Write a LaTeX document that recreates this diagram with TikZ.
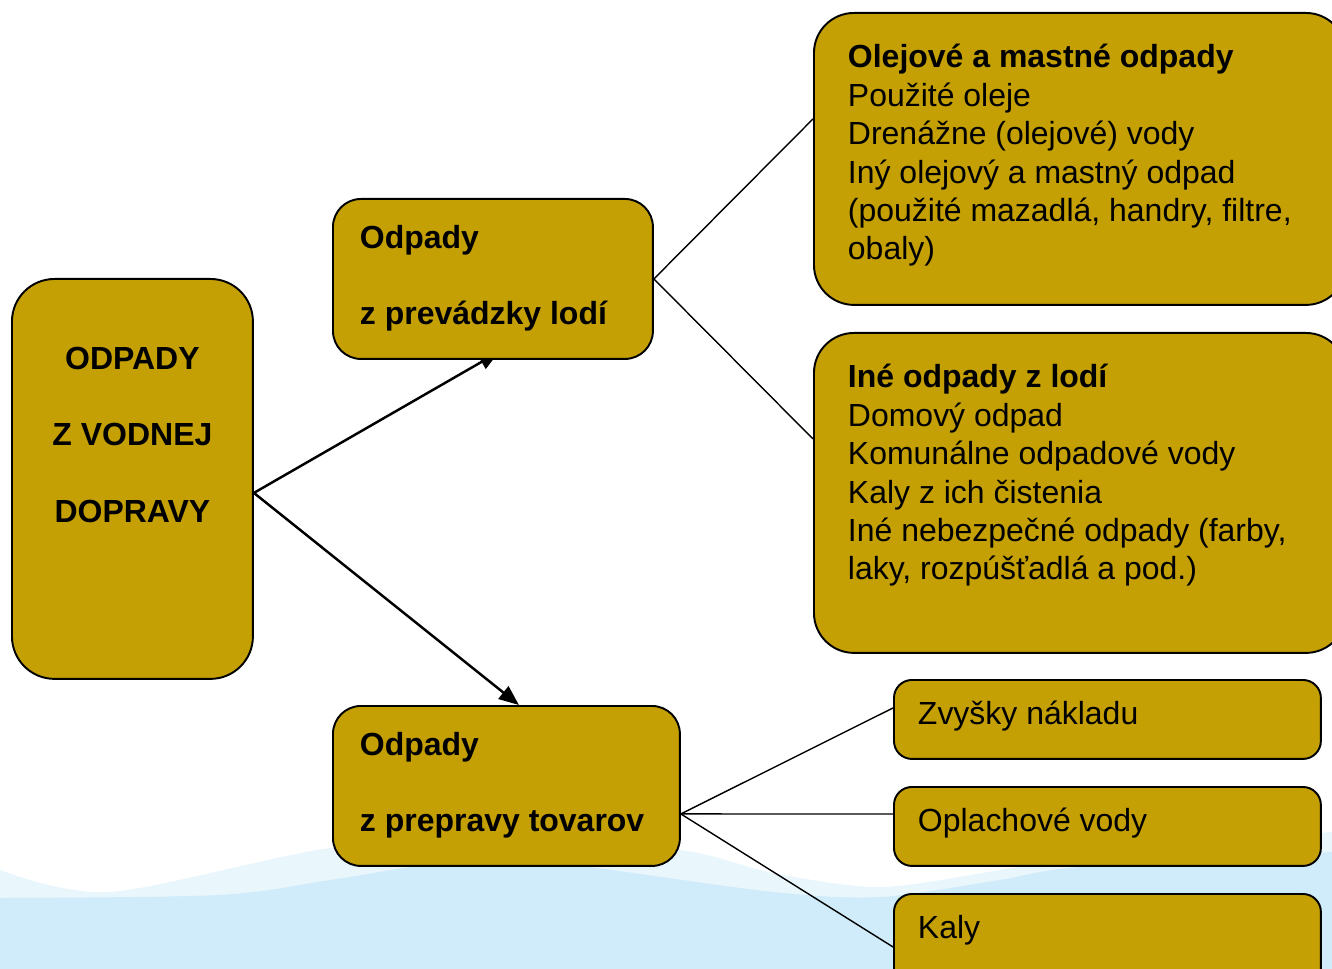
\documentclass[tikz,border=0pt]{standalone}
\usepackage{fontspec}
\setmainfont{Liberation Sans}
\usetikzlibrary{arrows.meta,backgrounds}

\definecolor{boxgold}{RGB}{196,160,4}
\definecolor{wavelight}{RGB}{233,246,252}
\definecolor{wavedark}{RGB}{208,235,249}

% top aligned text inside a box of fixed height
\newcommand{\boxtext}[3]{\parbox[c][#1][t]{#2}{\raggedright #3}}

\begin{document}
\begin{tikzpicture}[x=0.02cm, y=-0.02cm,
  box/.style={draw, line width=1.1pt, fill=boxgold, anchor=north west,
    font=\fontsize{18.2}{21.85}\selectfont},
  link/.style={line width=0.8pt},
  arrowlink/.style={line width=1.4pt, -{Triangle[length=0.4cm,width=0.32cm]}}]
 \useasboundingbox (0,0) rectangle (1332,969);

 % Waves at the bottom
 \begin{scope}[on background layer]
  \fill[wavelight] plot[smooth] coordinates {(0,870) (110,892) (330,848) (500,840) (680,850) (773,873) (880,887) (1000,870) (1100,852) (1332,832)} -- (1332,969) -- (0,969) -- cycle;
  \fill[wavedark] plot[smooth] coordinates {(0,898) (220,895) (330,880) (440,863) (520,860) (590,867) (773,892) (880,897) (1000,880) (1080,867) (1332,852)} -- (1332,969) -- (0,969) -- cycle;
 \end{scope}

 % Main box
 \node[box, rounded corners=0.85cm, inner xsep=0.2cm, inner ysep=1.36cm] (root) at (11,278)
  {\boxtext{5.28cm}{4.42cm}{\centering\fontsize{18.2}{43.5}\selectfont\bfseries ODPADY\\Z VODNEJ\\DOPRAVY}};

 % Second level
 \node[box, rounded corners=0.56cm, inner xsep=0.54cm, inner ysep=0.52cm] (ship) at (332,198)
  {\boxtext{2.16cm}{5.32cm}{\fontsize{18.2}{43.5}\selectfont\bfseries Odpady\\z prevádzky lodí}};
 \node[box, rounded corners=0.56cm, inner xsep=0.54cm, inner ysep=0.52cm] (cargo) at (332,705)
  {\boxtext{2.16cm}{5.86cm}{\fontsize{18.2}{43.5}\selectfont\bfseries Odpady\\z prepravy tovarov}};

 % Waste from ship operation
 \node[box, rounded corners=0.8cm, inner xsep=0.68cm, inner ysep=0.63cm] (oil) at (813,12)
  {\boxtext{4.58cm}{9.28cm}{{\bfseries Olejové a mastné odpady}\\Použité oleje\\Drenážne (olejové) vody\\Iný olejový a mastný odpad\\(použité mazadlá, handry, filtre,\\obaly)}};
 \node[box, rounded corners=0.8cm, inner xsep=0.68cm, inner ysep=0.63cm] (other) at (813,332)
  {\boxtext{5.14cm}{9.28cm}{{\bfseries Iné odpady z lodí}\\Domový odpad\\Komunálne odpadové vody\\Kaly z ich čistenia\\Iné nebezpečné odpady (farby,\\laky, rozpúšťadlá a pod.)}};

 % Waste from cargo transport
 \node[box, rounded corners=0.36cm, inner xsep=0.48cm, inner ysep=0.42cm] (residue) at (893,679)
  {\boxtext{0.74cm}{7.58cm}{Zvyšky nákladu}};
 \node[box, rounded corners=0.36cm, inner xsep=0.48cm, inner ysep=0.42cm] (rinse) at (893,786)
  {\boxtext{0.74cm}{7.58cm}{Oplachové vody}};
 \node[box, rounded corners=0.36cm, inner xsep=0.48cm, inner ysep=0.42cm] (sludge) at (893,893)
  {\boxtext{1.76cm}{7.58cm}{Kaly}};

 % Connectors
 \begin{scope}[on background layer]
  \draw[arrowlink] ([yshift=-0.28cm]root.east) -- ([xshift=0.12cm,yshift=0.16cm]ship.south);
  \draw[arrowlink] ([yshift=-0.28cm]root.east) -- ([xshift=0.25cm]cargo.north);
  \draw[link] (ship.east) -- ([yshift=0.8cm]oil.west);
  \draw[link] (ship.east) -- ([yshift=1.08cm]other.west);
  \draw[link] ([yshift=-0.56cm]cargo.east) -- ([yshift=0.23cm]residue.west);
  \draw[link] ([yshift=-0.56cm]cargo.east) -- ([yshift=0.25cm]rinse.west);
  \draw[link] ([yshift=-0.56cm]cargo.east) -- ([yshift=0.24cm]sludge.west);
 \end{scope}
\end{tikzpicture}
\end{document}
